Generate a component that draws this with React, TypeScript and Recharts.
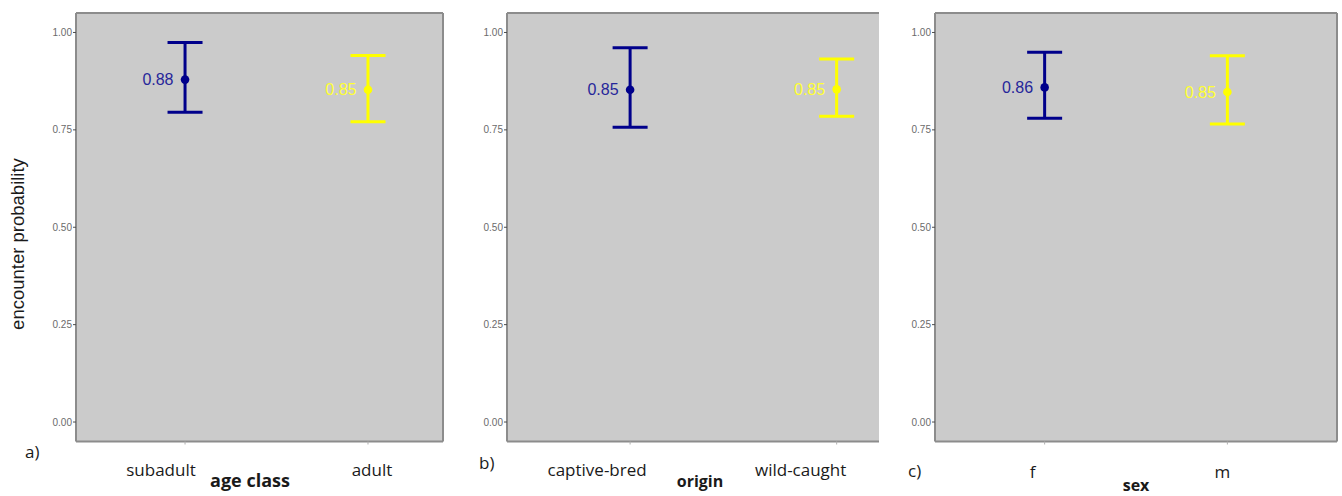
import React from "react";
import {
  ComposedChart,
  Scatter,
  ErrorBar,
  XAxis,
  YAxis,
  ReferenceArea,
  ReferenceLine,
  LabelList,
} from "recharts";

// ---- data ----
const ageCategories = ["subadult", "adult"];
const ageEstimate = [0.879, 0.853];
const ageLower = [0.795, 0.771];
const ageUpper = [0.974, 0.941];

const originCategories = ["captive-bred", "wild-caught"];
const originEstimate = [0.853, 0.854];
const originLower = [0.757, 0.785];
const originUpper = [0.961, 0.932];

const sexCategories = ["f", "m"];
const sexEstimate = [0.859, 0.847];
const sexLower = [0.78, 0.765];
const sexUpper = [0.949, 0.94];

const yTicks = [0, 0.25, 0.5, 0.75, 1];
const seriesColors = ["#00008b", "#ffff00"];
const labelColors = ["#26269a", "#ffff33"];

type PanelProps = {
  categories: string[];
  est: number[];
  lo: number[];
  hi: number[];
  left: number;
  plotLeft: number;
  plotRight: number;
  xDomain: [number, number];
  tickDx: number[];
  tickBaseline: number;
  rightBorder: boolean;
};

const PLOT_TOP = 13;
const PLOT_BOTTOM = 441.5;
const H = 496;
const BORDER = "#8c8c8c";

function Panel(p: PanelProps) {
  const width = p.plotRight - p.left + 2;
  const yAxisWidth = p.plotLeft - p.left;
  const rows = p.categories.map((c, i) => [
    { x: i + 1, y: p.est[i], err: [p.est[i] - p.lo[i], p.hi[i] - p.est[i]] },
  ]);
  const renderXTick = (props: any) => {
    const { x, payload } = props;
    const i = payload.value - 1;
    return (
      <text
        x={x + p.tickDx[i]}
        y={p.tickBaseline}
        textAnchor="middle"
        fontFamily="'Open Sans', sans-serif"
        fontSize={17}
        fill="#1a1a1a"
      >
        {p.categories[i]}
      </text>
    );
  };
  const [x0, x1] = p.xDomain;
  return (
    <div style={{ position: "absolute", left: p.left, top: 0 }}>
      <ComposedChart
        width={width}
        height={H}
        margin={{ top: PLOT_TOP, right: 2, left: 0, bottom: 0 }}
      >
        <XAxis
          type="number"
          dataKey="x"
          domain={p.xDomain}
          ticks={[1, 2]}
          allowDataOverflow
          axisLine={false}
          tickLine={{ stroke: "#b0b0b0" }}
          tickSize={3}
          height={H - PLOT_BOTTOM}
          tick={renderXTick}
        />
        <YAxis
          type="number"
          domain={[-0.05, 1.05]}
          ticks={yTicks}
          allowDataOverflow
          width={yAxisWidth}
          axisLine={false}
          tickLine={{ stroke: "#4d4d4d" }}
          tickSize={3}
          tickMargin={1}
          tickFormatter={(v: number) => v.toFixed(2)}
          tick={{ fontSize: 10, fill: "#6b6b6b", fontFamily: "Arial, 'Liberation Sans', sans-serif" }}
        />
        <ReferenceArea
          x1={x0}
          x2={x1}
          y1={-0.05}
          y2={1.05}
          fill="#cbcbcb"
          fillOpacity={1}
          stroke="none"
        />
        <ReferenceLine segment={[{ x: x0, y: -0.05 }, { x: x0, y: 1.05 }]} stroke={BORDER} strokeWidth={2} />
        <ReferenceLine segment={[{ x: x0, y: 1.05 }, { x: x1, y: 1.05 }]} stroke={BORDER} strokeWidth={2} />
        <ReferenceLine segment={[{ x: x0, y: -0.05 }, { x: x1, y: -0.05 }]} stroke={BORDER} strokeWidth={2} />
        {p.rightBorder && (
          <ReferenceLine segment={[{ x: x1, y: -0.05 }, { x: x1, y: 1.05 }]} stroke={BORDER} strokeWidth={2} />
        )}
        {rows.map((d, i) => (
          <Scatter
            key={p.categories[i]}
            data={d}
            dataKey="y"
            fill={seriesColors[i]}
            isAnimationActive={false}
            shape={(s: any) => <circle cx={s.cx} cy={s.cy} r={4.3} fill={seriesColors[i]} />}
          >
            <ErrorBar
              dataKey="err"
              direction="y"
              width={17.5}
              stroke={seriesColors[i]}
              strokeWidth={3}
              isAnimationActive={false}
            />
            <LabelList
              dataKey="y"
              position="left"
              offset={7}
              formatter={(v: number) => v.toFixed(2)}
              fill={labelColors[i]}
              fontSize={16}
              fontFamily="Arial, 'Liberation Sans', sans-serif"
            />
          </Scatter>
        ))}
      </ComposedChart>
    </div>
  );
}

const textStyle: React.CSSProperties = {
  position: "absolute",
  fontFamily: "'Open Sans', sans-serif",
  color: "#1a1a1a",
  whiteSpace: "nowrap",
  lineHeight: 1,
};

export default function App() {
  return (
    <div
      style={{
        position: "absolute",
        left: 0,
        top: 0,
        width: 1342,
        height: 496,
        background: "#ffffff",
        overflow: "hidden",
      }}
    >
      <Panel
        categories={ageCategories}
        est={ageEstimate}
        lo={ageLower}
        hi={ageUpper}
        left={0}
        plotLeft={76}
        plotRight={443}
        xDomain={[0.404, 2.41]}
        tickDx={[-24, 4]}
        tickBaseline={476}
        rightBorder
      />
      <Panel
        categories={originCategories}
        est={originEstimate}
        lo={originLower}
        hi={originUpper}
        left={450}
        plotLeft={507}
        plotRight={879}
        xDomain={[0.404, 2.205]}
        tickDx={[-33, -36]}
        tickBaseline={476}
        rightBorder={false}
      />
      <Panel
        categories={sexCategories}
        est={sexEstimate}
        lo={sexLower}
        hi={sexUpper}
        left={890}
        plotLeft={935}
        plotRight={1337}
        xDomain={[0.4, 2.6]}
        tickDx={[-12, -5]}
        tickBaseline={478}
        rightBorder
      />

      {/* y axis title */}
      <div
        style={{
          ...textStyle,
          fontFamily: "Arial, 'Liberation Sans', sans-serif",
          fontSize: 18.5,
          left: 18,
          top: 244,
          transform: "translate(-50%, -50%) rotate(-90deg)",
        }}
      >
        encounter probability
      </div>

      {/* x axis titles */}
      <div style={{ ...textStyle, fontWeight: 700, fontSize: 18, left: 250, top: 471, transform: "translateX(-50%)" }}>
        age class
      </div>
      <div style={{ ...textStyle, fontWeight: 700, fontSize: 16, left: 700, top: 473, transform: "translateX(-50%)" }}>
        origin
      </div>
      <div style={{ ...textStyle, fontWeight: 700, fontSize: 16, left: 1136, top: 477, transform: "translateX(-50%)" }}>
        sex
      </div>

      {/* panel letters */}
      <div style={{ ...textStyle, fontSize: 17, left: 25, top: 443 }}>a)</div>
      <div style={{ ...textStyle, fontSize: 17, left: 479, top: 454 }}>b)</div>
      <div style={{ ...textStyle, fontSize: 17, left: 908, top: 462 }}>c)</div>
    </div>
  );
}
